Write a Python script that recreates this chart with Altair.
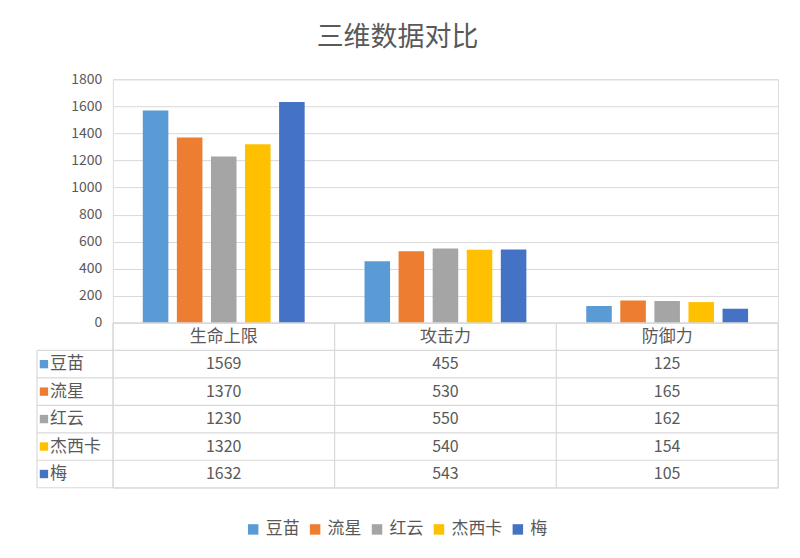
import altair as alt
import pandas as pd

categories = ["生命上限", "攻击力", "防御力"]
series = ["豆苗", "流星", "红云", "杰西卡", "梅"]
v_doumiao = [1569, 455, 125]
v_liuxing = [1370, 530, 165]
v_hongyun = [1230, 550, 162]
v_jiexika = [1320, 540, 154]
v_mei = [1632, 543, 105]
colors = ["#5B9BD5", "#ED7D31", "#A5A5A5", "#FFC000", "#4472C4"]
y_ticks = [0, 200, 400, 600, 800, 1000, 1200, 1400, 1600, 1800]

all_vals = [v_doumiao, v_liuxing, v_hongyun, v_jiexika, v_mei]
rows = []
for s, vals in zip(series, all_vals):
    for c, v in zip(categories, vals):
        rows.append({"series": s, "cat": c, "value": v})
df = pd.DataFrame(rows)

FONT = "Noto Sans CJK SC"
GRAY = "#595959"
LINE = "#d9d9d9"
W = 666
H_PLOT = 244
H_TAB = 165
LEFT = -76

color_scale = alt.Scale(domain=series, range=colors)

bars = alt.Chart(df).mark_bar().encode(
    x=alt.X("cat:N", scale=alt.Scale(domain=categories, paddingInner=0.27, paddingOuter=0.135), axis=None),
    xOffset=alt.XOffset("series:N", scale=alt.Scale(domain=series, paddingInner=0.25)),
    y=alt.Y("value:Q", scale=alt.Scale(domain=[0, 1800]),
            axis=alt.Axis(values=y_ticks, format="d", grid=True, gridColor=LINE, domain=False,
                          ticks=False, tickSize=0, labelColor=GRAY, labelFontSize=14,
                          labelPadding=11, labelFont=FONT, title=None)),
    color=alt.Color("series:N", scale=color_scale,
                    legend=alt.Legend(orient="none", legendX=132, legendY=442,
                                      direction="horizontal", title=None,
                                      symbolType="square", symbolSize=110, symbolStrokeWidth=0,
                                      labelFontSize=17, labelColor=GRAY, labelFont=FONT,
                                      columnPadding=7, symbolOffset=0)),
).properties(width=W, height=H_PLOT)

row_domain = ["header"] + series
ytab = alt.Y("row:N", scale=alt.Scale(domain=row_domain, paddingInner=0, paddingOuter=0), axis=None)
ytab0 = alt.Y("row:N", scale=alt.Scale(domain=row_domain, paddingInner=0, paddingOuter=0), axis=None, bandPosition=0)
xtab = alt.X("cat:N", scale=alt.Scale(domain=categories, paddingInner=0, paddingOuter=0), axis=None)
xtab0 = alt.X("cat:N", scale=alt.Scale(domain=categories, paddingInner=0, paddingOuter=0), axis=None, bandPosition=0)

tab_df = df.rename(columns={"series": "row"})
header_df = pd.DataFrame({"cat": categories, "row": ["header"] * len(categories)})
names_df = pd.DataFrame({"row": series, "series": series})

hlines = alt.Chart(names_df).mark_rule(color=LINE, strokeWidth=1.2).encode(
    y=ytab0, x=alt.value(LEFT), x2=alt.value(W))
top_line = alt.Chart(header_df.head(1)).mark_rule(color=LINE, strokeWidth=1.2).encode(
    y=alt.value(0), x=alt.value(0), x2=alt.value(W))
bottom_line = alt.Chart(header_df.head(1)).mark_rule(color=LINE, strokeWidth=1.2).encode(
    y=alt.value(H_TAB), x=alt.value(LEFT), x2=alt.value(W))
vlines = alt.Chart(header_df).mark_rule(color=LINE, strokeWidth=1.2).encode(
    x=xtab0, y=alt.value(0), y2=alt.value(H_TAB))
right_line = alt.Chart(header_df.head(1)).mark_rule(color=LINE, strokeWidth=1.2).encode(
    x=alt.value(W), y=alt.value(0), y2=alt.value(H_TAB))
left_line = alt.Chart(header_df.head(1)).mark_rule(color=LINE, strokeWidth=1.2).encode(
    x=alt.value(LEFT), y=alt.value(H_TAB / 6), y2=alt.value(H_TAB))

header_text = alt.Chart(header_df).mark_text(font=FONT, fontSize=17, color=GRAY).encode(
    x=xtab, y=ytab, text="cat:N")
value_text = alt.Chart(tab_df).mark_text(font=FONT, fontSize=16, color=GRAY).encode(
    x=xtab, y=ytab, text="value:Q")
squares = alt.Chart(names_df).mark_square(size=70, opacity=1).encode(
    x=alt.value(LEFT + 7), y=ytab,
    color=alt.Color("series:N", scale=color_scale, legend=None))
names = alt.Chart(names_df).mark_text(font=FONT, fontSize=17, color=GRAY, align="left").encode(
    x=alt.value(LEFT + 13), y=ytab, text="series:N")

table = alt.layer(hlines, top_line, bottom_line, vlines, right_line, left_line,
                  header_text, value_text, squares, names).properties(width=W, height=H_TAB)

chart = alt.vconcat(bars, table, spacing=0, bounds="flush").properties(
    title=alt.TitleParams("三维数据对比", font=FONT, fontSize=27, fontWeight="normal",
                          color=GRAY, anchor="middle", offset=20, dx=-10),
    padding={"left": 27, "top": 15, "right": 12, "bottom": 10},
).configure_view(strokeWidth=0).configure(background="white")

chart.save("out.html", embed_options={"renderer": "svg", "actions": False})
